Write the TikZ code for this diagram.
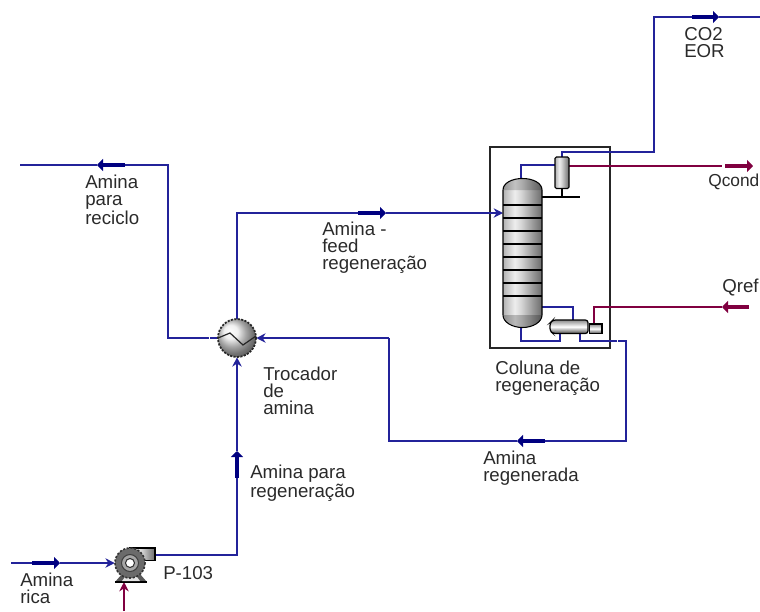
\documentclass[tikz,border=0pt]{standalone}
\usepackage{fontspec}
\setmainfont{Liberation Sans}
\usetikzlibrary{arrows.meta,calc}
\definecolor{strm}{HTML}{23239A}
\definecolor{navy}{HTML}{000080}
\definecolor{heat}{HTML}{800040}
\definecolor{txt}{HTML}{2A2A2A}
\pgfdeclarehorizontalshading{vessel}{100bp}{rgb(0bp)=(.7,.7,.7);rgb(25bp)=(.7,.7,.7);rgb(40bp)=(.93,.93,.93);rgb(48bp)=(.84,.84,.84);rgb(62bp)=(.62,.62,.62);rgb(75bp)=(.42,.42,.42);rgb(100bp)=(.42,.42,.42)}
\tikzset{
  lbl/.style={anchor=north west,align=left,inner sep=0pt,text=txt,font=\fontsize{14pt}{12.7pt}\selectfont},
  stream/.style={draw=strm,line width=1pt},
  heatline/.style={draw=heat,line width=1pt},
  endtip/.style={-{Stealth[length=7pt,width=7pt]}},
  flagblue/.style={preaction={draw=white,line width=4.6pt,-},draw=navy,line width=3.2pt,-{Triangle[length=4.5pt,width=9pt]}},
  flagheat/.style={preaction={draw=white,line width=4.6pt,-},draw=heat,line width=3.2pt,-{Triangle[length=4.5pt,width=9pt]}},
  vesselbody/.style={draw=black,line width=0.8pt,shading=vessel},
  hvessel/.style={draw=black,line width=0.9pt,top color=black!45,bottom color=black!70,middle color=white},
}
\begin{document}
\begin{tikzpicture}[x=0.75pt,y=-0.75pt]
\useasboundingbox (0,0) rectangle (760,611);
% frame
\node[draw=black!85,line width=1pt,inner sep=0pt,minimum width=90pt,minimum height=150.75pt] (frame) at (550,247.5) {};
% anchor nodes
\node[inner sep=0pt,minimum width=29.25pt,minimum height=111pt] (col) at (522.5,253) {};
\node[inner sep=0pt,minimum width=10.5pt,minimum height=24pt] (cond) at (562,173) {};
\node[inner sep=0pt,minimum width=28.5pt,minimum height=9.75pt] (reb) at (569,326.5) {};
\node[inner sep=0pt,minimum width=9.75pt,minimum height=7.5pt] (rebh) at (595.5,328) {};
\node[circle,inner sep=0pt,minimum size=28.5pt] (hx) at (237,338) {};
\node[circle,inner sep=0pt,minimum size=22.5pt] (pump) at (130,563) {};
\coordinate (feedin) at (503,213);
\coordinate (topv) at (521,179);
\coordinate (botl) at (521,327);
\coordinate (condin) at (555,165);
\coordinate (condh) at (569,166);
\coordinate (qcondend) at (722,166);
\coordinate (qrefend) at (722,307);
\coordinate (rebin) at (573,320);
\coordinate (rebhin) at (594,324);
\coordinate (colside) at (542,197);
% streams
\draw[stream] (topv) -- (521,165) -- (condin);
\draw[stream] (cond.north) -- (562,152) -- (654,152) -- (654,17) -- (760,17);
\draw[stream] (542,307) -- (573,307) -- (rebin);
\draw[stream] (botl) -- (521,341) -- (560,341) -- (560,334);
\draw[stream] (580,334) -- (580,341) -- (626,341) -- (626,441) -- (389,441) -- (389,338);
\draw[stream,endtip] (389,338) -- (hx.east);
\draw[stream,endtip] (hx.north) -- (237,213) -- (feedin);
\draw[stream] (hx.west) -- (168,338) -- (168,165) -- (20,165);
\draw[stream,endtip] (155,555) -- (237,555) -- (hx.south);
\draw[stream,endtip] (11,563) -- (pump.west);
\draw[draw=white,line width=1.2pt] (616.5,341) -- (618,341);
\draw[draw=white,line width=1.2pt] (208.5,338) -- (210,338);
% heat
\draw[heatline] (condh) -- (qcondend);
\draw[heatline] (qrefend) -- (594,307) -- (rebhin);
\draw[heatline,endtip] (124,611) -- (124,582);
% condenser
\draw[black,line width=0.9pt] (562,189) -- (562,197);
\draw[black,line width=0.9pt] (colside) -- (580,197);
\shadedraw[vesselbody,rounded corners=1pt] (555,157) rectangle (569,188.5);
% column
\shadedraw[vesselbody] (503,190) .. controls (503,183) and (512,178.5) .. (522.5,178.5) .. controls (533,178.5) and (542,183) .. (542,190) -- (542,315) .. controls (542,322) and (533,327.5) .. (522.5,327.5) .. controls (512,327.5) and (503,322) .. (503,315) -- cycle;
\fill[black,opacity=.18] (503.5,190) .. controls (503.5,183) and (512,179) .. (522.5,179) .. controls (533,179) and (541.5,183) .. (541.5,190) -- cycle;
\fill[black,opacity=.22] (503.5,315) .. controls (503.5,322) and (512,327) .. (522.5,327) .. controls (533,327) and (541.5,322) .. (541.5,315) -- cycle;
\foreach \yy in {205,218,231,244,257,270,283,296}
  \draw[black,line width=0.9pt] (503,\yy) -- (542,\yy);
% reboiler
\shadedraw[hvessel,rounded corners=2pt] (550,323) -- (553,320) -- (588,320) -- (588,333.5) -- (553,333.5) -- (550,331) -- cycle;
\shadedraw[hvessel] (589.5,324) rectangle (602,333.5);
% heat exchanger
\shade[ball color=black!8] (hx) circle (19);
\draw[black!85,line width=1.3pt,dash pattern=on 1.6pt off 1pt] (hx) circle (19);
\draw[black!85,line width=0.9pt] (218,338) -- (230,333) -- (243,345) -- (256,336);
% pump
\fill[black!65] (115,582) -- (122,574) -- (140,574) -- (147,582) -- cycle;
\draw[black,line width=0.8pt] (115,582) -- (147,582);
\fill[white!90!black] (122,581) -- (125,577) -- (137,577) -- (140,581) -- cycle;
\shadedraw[vesselbody] (130,548) rectangle (155,560.5);
\fill[black!58] (pump) circle (15);
\draw[black!80,line width=1.2pt,dash pattern=on 1.6pt off 1.2pt] (pump) circle (15);
\fill[black!35,draw=black!75,line width=0.8pt] (pump) circle (8.5);
\fill[white,draw=black!80,line width=0.8pt] (pump) circle (4.5);
% flags
\draw[flagblue] (692,17) -- (719,17);
\draw[flagblue] (125,165) -- (97,165);
\draw[flagblue] (358,213) -- (386,213);
\draw[flagblue] (545,441) -- (517,441);
\draw[flagblue] (237,478) -- (237,451);
\draw[flagblue] (32,563) -- (60,563);
\draw[flagheat] (725,166) -- (753,166);
\draw[flagheat] (749,307) -- (722,307);
% labels
\node[lbl] (t1) at (684,27) {CO2\\EOR};
\node[lbl] (t2) at (85,175) {Amina\\para\\reciclo};
\node[lbl] (t3) at (322,222) {Amina -\\feed\\regeneração};
\node[lbl,font=\fontsize{13pt}{12.7pt}\selectfont] (t4) at (708,174) {Qcond};
\node[lbl] (t5) at (722,279) {Qref};
\node[lbl] (t6) at (495,361) {Coluna de\\regeneração};
\node[lbl] (t7) at (263,367) {Trocador\\de\\amina};
\node[lbl] (t8) at (483,451) {Amina\\regenerada};
\node[lbl] (t9) at (250,465) {Amina para\\regeneração};
\node[lbl] (t10) at (20,573) {Amina\\rica};
\node[lbl] (t11) at (163,566) {P-103};
\end{tikzpicture}
\end{document}
